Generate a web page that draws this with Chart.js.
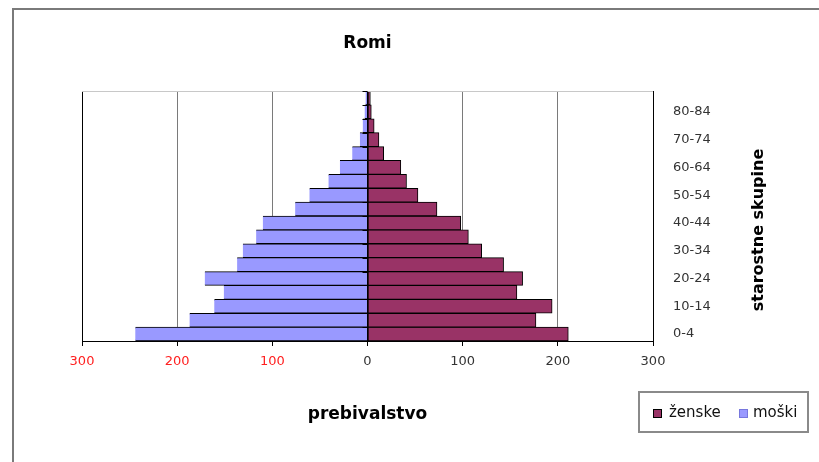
<!DOCTYPE html>
<html>
<head>
<meta charset="utf-8">
<script src="https://cdn.jsdelivr.net/npm/chart.js@4"></script>
<style>
  body { margin: 0; background: #fff; }
  #wrap { position: relative; width: 819px; height: 462px; overflow: hidden; font-family: "DejaVu Sans", sans-serif; }
  #frame { position: absolute; left: 12px; top: 8px; width: 900px; height: 600px; border-left: 2px solid #7a7a7a; border-top: 2px solid #7a7a7a; }
  #legend { position: absolute; left: 638px; top: 391px; width: 171px; height: 42px; border: 2px solid #8a8a8a; box-sizing: border-box; font-size: 15px; color: #111; }
  #legend span.sw { position: absolute; top: 16px; width: 7px; height: 7px; border: 1px solid #000; }
  #legend span.tx { position: absolute; top: 10px; }
</style>
</head>
<body>
<div id="wrap">
  <div id="frame"></div>
  <canvas id="pyramid" width="819" height="462"></canvas>
  <div id="legend">
    <span class="sw" style="left:13px;background:#993366"></span><span class="tx" style="left:29px">ženske</span>
    <span class="sw" style="left:99px;background:#9999ff;border-color:#7777dd"></span><span class="tx" style="left:113px">moški</span>
  </div>
</div>
<script>
// age groups, bottom to top
const ages = ['0-4', '5-9', '10-14', '15-19', '20-24', '25-29', '30-34', '35-39', '40-44',
              '45-49', '50-54', '55-59', '60-64', '65-69', '70-74', '75-79', '80-84', '85+'];
const zenske = [211, 177, 194, 157, 163, 143, 120, 106, 98, 73, 53, 41, 35, 17, 12, 7, 4, 3];
const moski = [244, 187, 161, 151, 171, 137, 131, 117, 110, 76, 61, 41, 29, 16, 8, 5, 3, 2];
const xTicks = [-300, -200, -100, 0, 100, 200, 300];

const FONT = '"DejaVu Sans", sans-serif';

// title over plot centre, rotated y title, top border and centre axis ticks
const extras = {
    id: 'extras',
    afterDraw(chart) {
        const { ctx, chartArea: a, scales: { x } } = chart;
        ctx.save();
        ctx.strokeStyle = '#c8c8c8';
        ctx.lineWidth = 1;
        ctx.beginPath();
        ctx.moveTo(a.left, a.top + 0.5);
        ctx.lineTo(a.right, a.top + 0.5);
        ctx.stroke();

        const x0 = x.getPixelForValue(0);
        ctx.strokeStyle = '#000';
        ctx.beginPath();
        const step = (a.bottom - a.top) / ages.length;
        for (let i = 0; i <= ages.length; i++) {
            const yy = Math.round(a.top + i * step) + 0.5;
            ctx.moveTo(x0 - 5, yy);
            ctx.lineTo(x0, yy);
        }
        ctx.stroke();

        ctx.fillStyle = '#000';
        ctx.font = 'bold 17px ' + FONT;
        ctx.textAlign = 'center';
        ctx.textBaseline = 'middle';
        ctx.fillText('Romi', (a.left + a.right) / 2, 44);

        ctx.font = 'bold 16px ' + FONT;
        ctx.translate(759, 230);
        ctx.rotate(-Math.PI / 2);
        ctx.fillText('starostne skupine', 0, 0);
        ctx.restore();
    }
};

new Chart(document.getElementById('pyramid'), {
    type: 'bar',
    data: {
        labels: ages,
        datasets: [
            {
                label: 'ženske',
                data: zenske,
                backgroundColor: '#993366',
                borderColor: '#000',
                borderWidth: 1,
                borderSkipped: false,
                barPercentage: 1,
                categoryPercentage: 1
            },
            {
                label: 'moški',
                data: moski.map(v => -v),
                backgroundColor: '#9999ff',
                borderColor: '#000',
                borderWidth: { top: 1, bottom: 1, left: 0, right: 0 },
                borderSkipped: false,
                barPercentage: 1,
                categoryPercentage: 1
            }
        ]
    },
    options: {
        indexAxis: 'y',
        responsive: false,
        animation: false,
        layout: { padding: { left: 82, top: 91, right: 0, bottom: 37 } },
        plugins: {
            legend: { display: false },
            tooltip: { enabled: false }
        },
        scales: {
            x: {
                stacked: true,
                min: -300,
                max: 300,
                afterBuildTicks: s => { s.ticks = xTicks.map(v => ({ value: v })); },
                afterFit: s => { s.height = 84; },
                ticks: {
                    padding: 8,
                    font: { family: FONT, size: 13 },
                    color: c => (c.tick && c.tick.value < 0 ? '#ff2020' : '#333'),
                    callback: v => String(Math.abs(v))
                },
                grid: {
                    color: c => (c.tick && (c.tick.value === 0 || Math.abs(c.tick.value) === 300) ? '#000' : '#7a7a7a'),
                    lineWidth: 1,
                    tickLength: 5,
                    tickColor: '#000'
                },
                border: { color: '#000', width: 1 },
                title: {
                    display: true,
                    text: 'prebivalstvo',
                    color: '#000',
                    font: { family: FONT, size: 17, weight: 'bold' },
                    padding: { top: 20, bottom: 0 }
                }
            },
            y: {
                stacked: true,
                position: 'right',
                reverse: true,
                afterFit: s => { s.width = 166; },
                ticks: {
                    autoSkip: false,
                    padding: 12,
                    font: { family: FONT, size: 13 },
                    color: '#333',
                    callback: (v, i) => (i % 2 === 0 ? ages[i] : '')
                },
                grid: { display: false },
                border: { color: '#000', width: 1 }
            }
        }
    },
    plugins: [extras]
});
</script>
</body>
</html>
